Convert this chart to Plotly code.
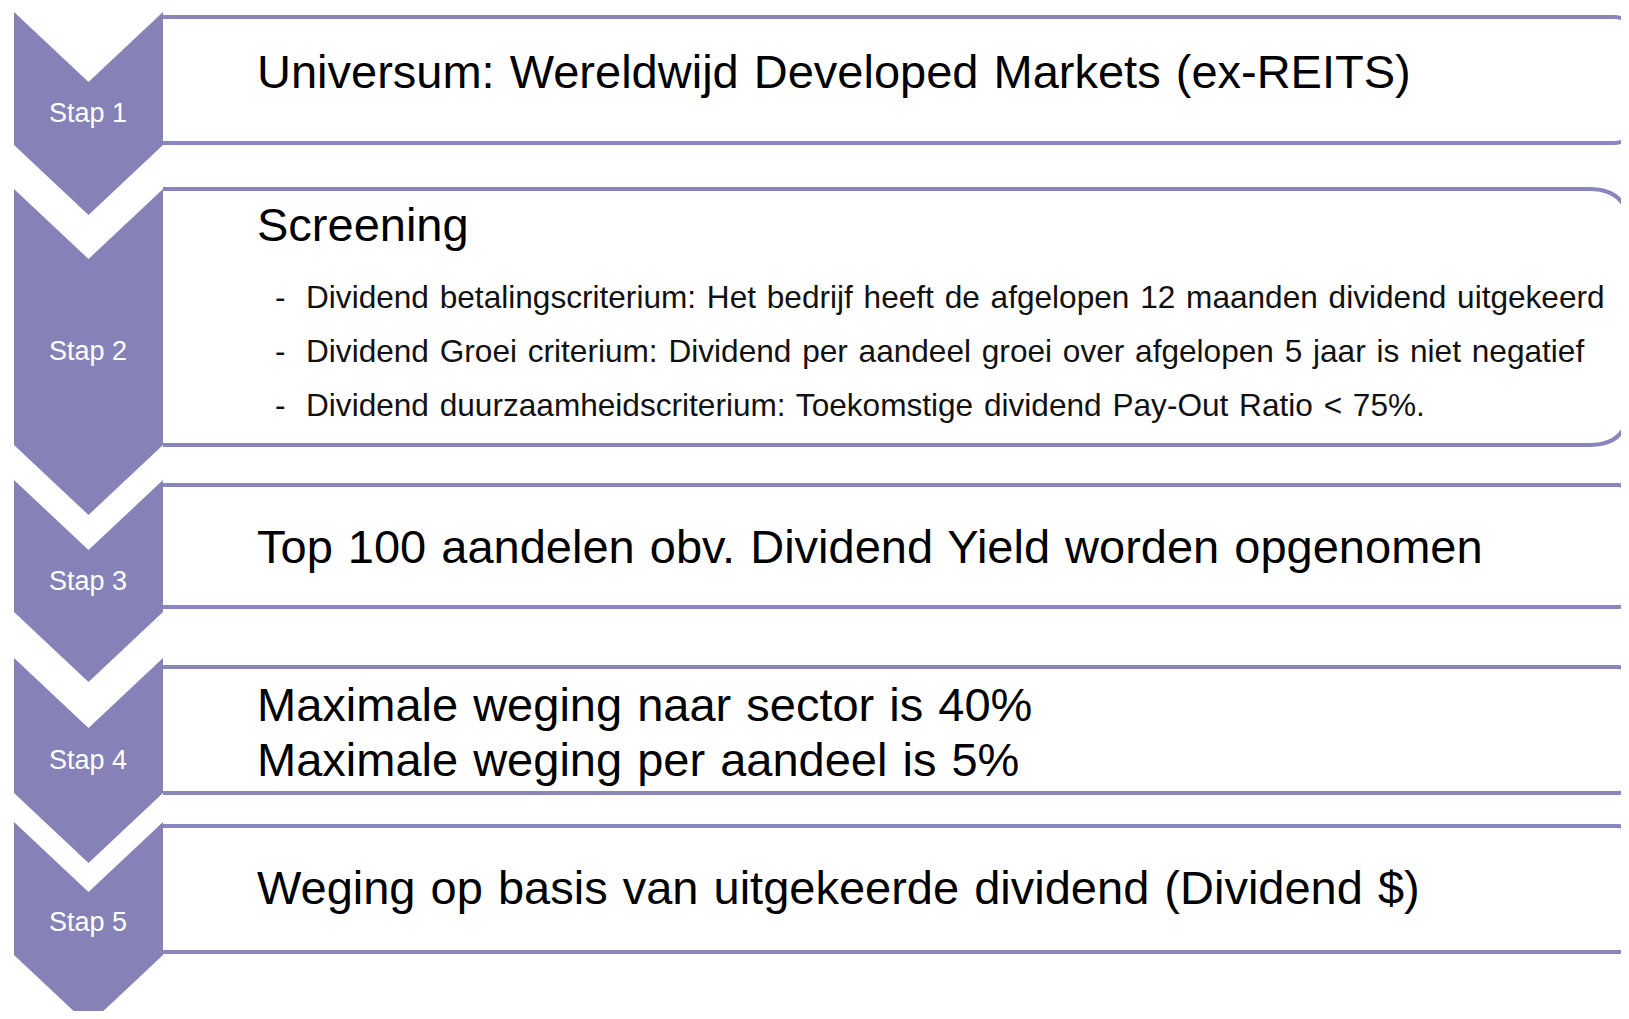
import plotly.graph_objects as go

# tekst van het stappenplan
stappen = ["Stap 1", "Stap 2", "Stap 3", "Stap 4", "Stap 5"]
koppen = [
    ["Universum: Wereldwijd Developed Markets (ex-REITS)"],
    ["Screening"],
    ["Top 100 aandelen obv. Dividend Yield worden opgenomen"],
    ["Maximale weging naar sector is 40%", "Maximale weging per aandeel is 5%"],
    ["Weging op basis van uitgekeerde dividend (Dividend $)"],
]
criteria = [
    "Dividend betalingscriterium: Het bedrijf heeft de afgelopen 12 maanden dividend uitgekeerd",
    "Dividend Groei criterium: Dividend per aandeel groei over afgelopen 5 jaar is niet negatief",
    "Dividend duurzaamheidscriterium: Toekomstige dividend Pay-Out Ratio < 75%.",
]

# layout in pixels (schermcoordinaten)
W, H = 1629, 1019
body = 8  # standaard marge van de pagina; figuur past zo zonder scrollbalken
chev_left, chev_right = 14, 163
chev_top = [12, 189, 480, 658, 822]
chev_bot = [145, 445, 612, 793, 955]
tip = 70
box_top = [17, 189, 485, 667, 826]
box_bot = [143, 445, 607, 793, 952]
box_r = [15, 40, 12, 12, 12]
box_right = 1629
label_y = [113, 351, 581, 760, 922]
kop_y = [[71], [224], [546], [704, 759], [887]]
crit_y = [297, 351, 405]

paars = "#8682B7"
rand = "#8985BD"
font = "Liberation Sans, Arial, sans-serif"

fig = go.Figure()
shapes = []
for t, b, r in zip(box_top, box_bot, box_r):
    x0, x1 = chev_right, box_right
    path = (f"M {x0},{t} H {x1 - r} Q {x1},{t} {x1},{t + r} V {b - r} "
            f"Q {x1},{b} {x1 - r},{b} H {x0}")
    shapes.append(dict(type="path", path=path, fillcolor="white",
                       line=dict(color=rand, width=4), layer="above"))

mid = (chev_left + chev_right) / 2
for t, b in zip(chev_top, chev_bot):
    path = (f"M {chev_left},{t} L {mid},{t + tip} L {chev_right},{t} "
            f"L {chev_right},{b} L {mid},{b + tip} L {chev_left},{b} Z")
    shapes.append(dict(type="path", path=path, fillcolor=paars,
                       line=dict(width=0), layer="above"))

ann = []
for s, y in zip(stappen, label_y):
    ann.append(dict(x=mid - 1, y=y, text=s, showarrow=False, xanchor="center",
                    yanchor="middle", font=dict(family=font, size=27, color="white")))

for regels, ys in zip(koppen, kop_y):
    for regel, y in zip(regels, ys):
        ann.append(dict(x=255, y=y, text=f'<span style="word-spacing:2px">{regel}</span>',
                        showarrow=False, xanchor="left", yanchor="middle",
                        font=dict(family=font, size=47, color="black")))

for c, y in zip(criteria, crit_y):
    ann.append(dict(x=273, y=y, text="-", showarrow=False, xanchor="left",
                    yanchor="middle", font=dict(family=font, size=31.6, color="#111111")))
    ann.append(dict(x=304, y=y, text=f'<span style="word-spacing:2px">{c.replace("<", "&lt;")}</span>',
                    showarrow=False, xanchor="left", yanchor="middle",
                    font=dict(family=font, size=31.6, color="#111111")))

fig.update_layout(
    width=W - 2 * body, height=H - 2 * body,
    margin=dict(l=0, r=0, t=0, b=0),
    paper_bgcolor="white", plot_bgcolor="white",
    xaxis=dict(range=[body, W - body], visible=False, fixedrange=True),
    yaxis=dict(range=[H - body, body], visible=False, fixedrange=True),
    shapes=shapes, annotations=ann, showlegend=False,
)
fig.write_html("out.html")
